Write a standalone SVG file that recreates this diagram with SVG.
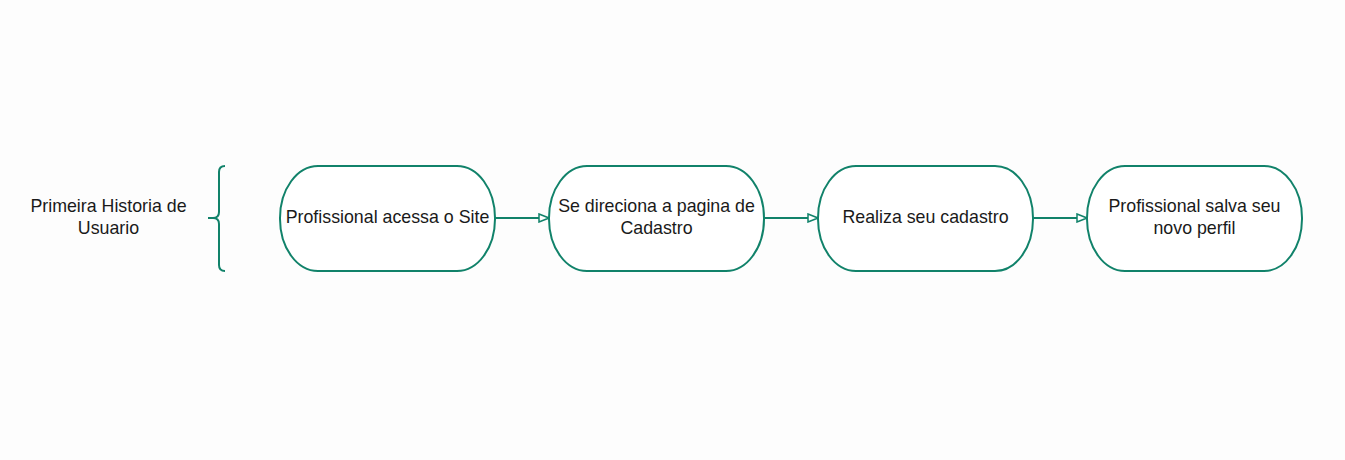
<svg xmlns="http://www.w3.org/2000/svg" width="1345" height="460" viewBox="0 0 1345 460">
<style>
.n{fill:#fff;stroke:#11826a;stroke-width:2}
.t{font-family:"Liberation Sans",Arial,sans-serif;font-size:17.8px;fill:#1a1a1a;text-anchor:middle}
.c{stroke:#11826a;stroke-width:2;fill:none}
</style>
<defs>
<marker id="a" markerWidth="12" markerHeight="10" refX="11" refY="5" orient="auto" markerUnits="userSpaceOnUse">
<path d="M1,1 L11,5 L1,9 Z" fill="#fff" stroke="#11826a" stroke-width="1.5"/>
</marker>
</defs>
<rect width="1345" height="460" fill="#fdfdfd"/>
<g id="label">
<text class="t" x="108.5" y="211.5">Primeira Historia de</text>
<text class="t" x="108.5" y="233.5">Usuario</text>
<path class="c" d="M225,166 Q219,166 219,172 L219,212 Q219,218 213,218 L208,218 M213,218 Q219,218 219,224 L219,265 Q219,271 225,271"/>
</g>
<g id="n1">
<rect class="n" x="280" y="166" width="215" height="105" rx="38" ry="52"/>
<text class="t" x="387.5" y="222.5">Profissional acessa o Site</text>
</g>
<g id="n2">
<rect class="n" x="549" y="166" width="215" height="105" rx="38" ry="52"/>
<text class="t" x="656.5" y="211.5">Se direciona a pagina de</text>
<text class="t" x="656.5" y="233.5">Cadastro</text>
</g>
<g id="n3">
<rect class="n" x="818" y="166" width="215" height="105" rx="38" ry="52"/>
<text class="t" x="925.5" y="222.5">Realiza seu cadastro</text>
</g>
<g id="n4">
<rect class="n" x="1087" y="166" width="215" height="105" rx="38" ry="52"/>
<text class="t" x="1194.5" y="211.5">Profissional salva seu</text>
<text class="t" x="1194.5" y="233.5">novo perfil</text>
</g>
<g id="connectors">
<line class="c" x1="495" y1="218" x2="549" y2="218" marker-end="url(#a)"/>
<line class="c" x1="764" y1="218" x2="818" y2="218" marker-end="url(#a)"/>
<line class="c" x1="1033" y1="218" x2="1087" y2="218" marker-end="url(#a)"/>
</g>
</svg>
